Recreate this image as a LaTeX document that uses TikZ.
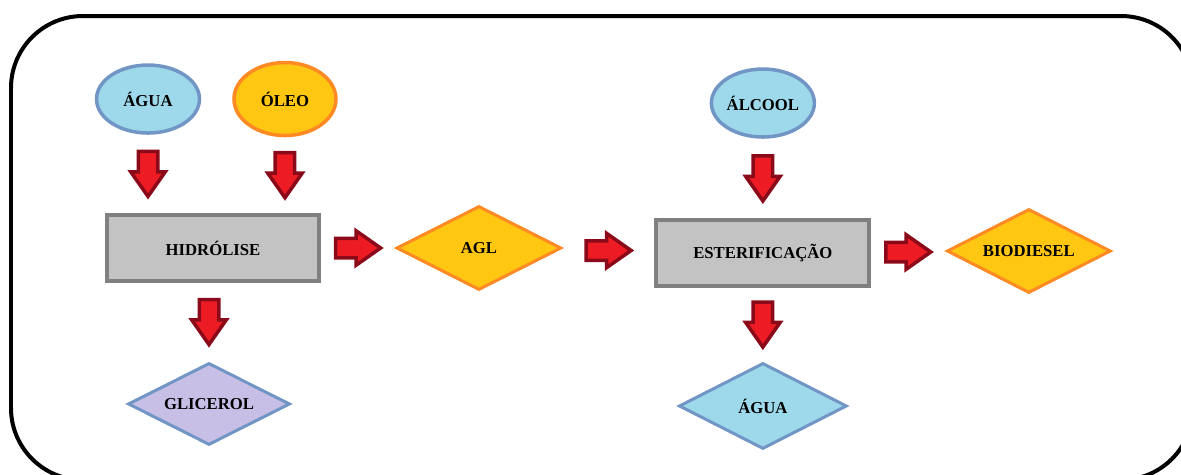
\documentclass[tikz,border=0pt]{standalone}
\usepackage{fontspec}
\setmainfont{Liberation Serif}
\usetikzlibrary{shapes,arrows}
\usetikzlibrary{shapes.geometric}

\definecolor{azulclaro}{HTML}{9DD9EA}
\definecolor{azulborda}{HTML}{7196C5}
\definecolor{amarelo}{HTML}{FFC612}
\definecolor{laranja}{HTML}{FF8A24}
\definecolor{cinza}{HTML}{C3C3C3}
\definecolor{cinzaborda}{HTML}{808080}
\definecolor{lilas}{HTML}{C8BFE6}
\definecolor{vermelho}{HTML}{ED1C24}
\definecolor{vinho}{HTML}{8B0A1A}

\begin{document}
\begin{tikzpicture}[x=0.02cm, y=-0.02cm,
    font=\bfseries\fontsize{9.5}{11}\selectfont]
\tikzstyle{block} = [draw=cinzaborda, fill=cinza, rectangle, line width=0.08cm,
    minimum height=1.31cm, minimum width=4.26cm]
\tikzstyle{fonte} = [ellipse, line width=0.07cm, inner sep=0pt,
    minimum width=2.06cm, minimum height=1.36cm]
\tikzstyle{produto} = [diamond, line width=0.06cm, inner sep=0pt, aspect=2,
    minimum width=3.3cm, minimum height=1.68cm]
% the center of a single arrow sits toward its tip, so pull it back a bit
\tikzstyle{seta} = [single arrow, draw=vinho, fill=vermelho, line width=0.07cm,
    inner xsep=0pt, inner ysep=0.16cm, minimum height=0.9cm, minimum width=0pt,
    single arrow head extend=0.15cm, single arrow tip angle=70,
    font=\fontsize{1}{1}\selectfont, xshift=-0.14cm]
% pointing down, the shaft width comes from the other separation
\tikzstyle{setabaixo} = [seta, shape border rotate=270,
    inner xsep=0.16cm, inner ysep=0pt, xshift=0.14cm, yshift=0.14cm]
    % the frame runs past the edges of the page
    \useasboundingbox (0,0) rectangle (1181,474);
    \clip (0,0) rectangle (1181,474);
    \draw [line width=0.08cm, rounded corners=1.44cm] (11,16) rectangle (1193,480);

    % We start by placing the process row
    \node [block] at (213,248) (hidro) {HIDRÓLISE};
    \node [produto, draw=laranja, fill=amarelo, right of=hidro,
            node distance=5.32cm] (agl) {AGL};
    \node [block, right of=agl, node distance=5.68cm, yshift=-0.1cm] (ester) {ESTERIFICAÇÃO};
    \node [produto, draw=laranja, fill=amarelo, right of=ester,
            node distance=5.32cm, yshift=0.04cm, minimum width=3.28cm] (bio) {BIODIESEL};

    % inputs on top
    \node [fonte, draw=azulborda, fill=azulclaro, above of=hidro,
            node distance=2.98cm, xshift=-1.3cm] (agua) {ÁGUA};
    \node [fonte, draw=laranja, fill=amarelo, right of=agua,
            node distance=2.74cm, minimum width=2.04cm, minimum height=1.46cm] (oleo) {ÓLEO};
    \node [fonte, draw=azulborda, fill=azulclaro, above of=ester,
            node distance=3.0cm] (alcool) {ÁLCOOL};

    % by-products below
    \node [produto, draw=azulborda, fill=lilas, below of=hidro,
            node distance=3.12cm, xshift=-0.08cm, minimum width=3.24cm,
            minimum height=1.64cm] (glicerol) {GLICEROL};
    \node [produto, draw=azulborda, fill=azulclaro, below of=ester,
            node distance=3.06cm, minimum width=3.36cm,
            minimum height=1.72cm] (agua2) {ÁGUA};

    % The block arrows sit halfway between the nodes they join
    \path (agua.south) -- node [setabaixo] {} (agua.south |- hidro.north);
    \path (oleo.south) -- node [setabaixo] {} (oleo.south |- hidro.north);
    \path (alcool.south) -- node [setabaixo] {} (ester.north);
    \path (hidro.south -| glicerol.north) -- node [setabaixo] {} (glicerol.north);
    \path (ester.south) -- node [setabaixo] {} (agua2.north);
    \path (hidro.east) -- node [seta] {} (agl.west);
    \path (agl.east) -- node [seta] {} (ester.west);
    \path (ester.east) -- node [seta] {} (bio.west);
\end{tikzpicture}
\end{document}
